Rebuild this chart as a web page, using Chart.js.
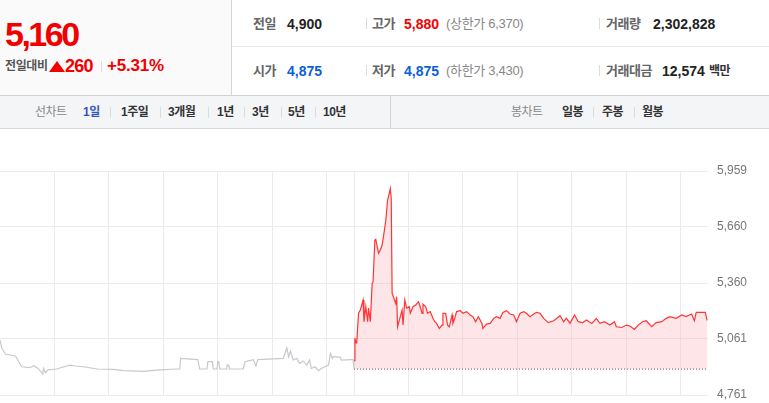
<!DOCTYPE html>
<html lang="ko">
<head>
<meta charset="utf-8">
<script src="https://cdn.jsdelivr.net/npm/chart.js"></script>
<style>
body { margin: 0; width: 769px; height: 403px; overflow: hidden; background: #fff; position: relative;
       font-family: "Liberation Sans", Arial, "Noto Sans CJK KR", sans-serif; }
.a { position: absolute; white-space: nowrap; }
.lbl { font-size: 13px; font-weight: bold; color: #666; letter-spacing: -0.5px; }
.num { font-size: 14px; font-weight: bold; color: #222; }
.sub { font-size: 13px; color: #888; letter-spacing: -0.3px; }
.red { color: #f20000; }
.blue { color: #0a5fd8; }
.sep { position: absolute; width: 1px; height: 11px; background: #dcdcdc; }
#left { position: absolute; left: 0; top: 0; width: 231px; height: 95px; background: #fafafa; border-right: 1px solid #d6d6d6; }
#hline { position: absolute; left: 232px; top: 46px; width: 537px; height: 1px; background: #e8e8e8; }
#tabs { position: absolute; left: 0; top: 95px; width: 769px; height: 32px; background: #f4f5f7;
        border-top: 1px solid #cfd1d6; border-bottom: 1px solid #d7d9dd; }
.tab { font-size: 12px; font-weight: bold; color: #333; letter-spacing: -0.5px; }
.tabg { font-size: 12px; color: #888; letter-spacing: -0.5px; }
#chart { position: absolute; left: 0; top: 131px; }
</style>
</head>
<body>
<div id="left"></div>
<div id="hline"></div>

<div class="a red" style="left:5px;top:17px;font-size:34px;line-height:34px;font-weight:bold;letter-spacing:-2.5px">5,160</div>
<div class="a" style="left:5px;top:58px;font-size:12px;line-height:16px;font-weight:bold;color:#555;letter-spacing:-0.4px">전일대비</div>
<div class="a" style="left:49px;top:61px;width:0;height:0;border-left:8px solid transparent;border-right:8px solid transparent;border-bottom:11px solid #f20000"></div>
<div class="a red" style="left:65px;top:56px;font-size:18px;line-height:20px;font-weight:bold;letter-spacing:-0.7px">260</div>
<div class="sep" style="left:101px;top:61px"></div>
<div class="a red" style="left:107px;top:56px;font-size:17px;line-height:20px;font-weight:bold;letter-spacing:-0.2px">+5.31%</div>

<div class="a lbl" style="left:253px;top:14px;line-height:20px">전일</div>
<div class="a num" style="left:287px;top:14px;line-height:20px">4,900</div>
<div class="sep" style="left:366px;top:18px"></div>
<div class="a lbl" style="left:372px;top:14px;line-height:20px">고가</div>
<div class="a num red" style="left:404px;top:14px;line-height:20px">5,880</div>
<div class="a sub" style="left:446px;top:14px;line-height:20px">(상한가 6,370)</div>
<div class="sep" style="left:599px;top:18px"></div>
<div class="a lbl" style="left:606px;top:14px;line-height:20px">거래량</div>
<div class="a num" style="left:653px;top:14px;line-height:20px">2,302,828</div>

<div class="a lbl" style="left:253px;top:61px;line-height:20px">시가</div>
<div class="a num blue" style="left:287px;top:61px;line-height:20px">4,875</div>
<div class="sep" style="left:366px;top:65px"></div>
<div class="a lbl" style="left:372px;top:61px;line-height:20px">저가</div>
<div class="a num blue" style="left:404px;top:61px;line-height:20px">4,875</div>
<div class="a sub" style="left:446px;top:61px;line-height:20px">(하한가 3,430)</div>
<div class="sep" style="left:599px;top:65px"></div>
<div class="a lbl" style="left:606px;top:61px;line-height:20px">거래대금</div>
<div class="a num" style="left:662px;top:61px;line-height:20px">12,574</div>
<div class="a" style="left:709px;top:61px;line-height:20px;font-size:12px;font-weight:bold;color:#333;letter-spacing:-0.5px">백만</div>

<div id="tabs"></div>
<div class="a" style="left:390px;top:96px;width:1px;height:32px;background:#cfd1d6"></div>
<div class="a tabg" style="left:35px;top:103px;line-height:18px">선차트</div>
<div class="a tab" style="left:83px;top:103px;line-height:18px;color:#3556b8">1일</div>
<div class="sep" style="left:110px;top:107px"></div>
<div class="a tab" style="left:121px;top:103px;line-height:18px">1주일</div>
<div class="sep" style="left:160px;top:107px"></div>
<div class="a tab" style="left:168px;top:103px;line-height:18px">3개월</div>
<div class="sep" style="left:208px;top:107px"></div>
<div class="a tab" style="left:217px;top:103px;line-height:18px">1년</div>
<div class="sep" style="left:244px;top:107px"></div>
<div class="a tab" style="left:252px;top:103px;line-height:18px">3년</div>
<div class="sep" style="left:281px;top:107px"></div>
<div class="a tab" style="left:288px;top:103px;line-height:18px">5년</div>
<div class="sep" style="left:315px;top:107px"></div>
<div class="a tab" style="left:323px;top:103px;line-height:18px">10년</div>
<div class="a tabg" style="left:511px;top:103px;line-height:18px">봉차트</div>
<div class="a tab" style="left:562px;top:103px;line-height:18px">일봉</div>
<div class="sep" style="left:593px;top:107px"></div>
<div class="a tab" style="left:602px;top:103px;line-height:18px">주봉</div>
<div class="sep" style="left:634px;top:107px"></div>
<div class="a tab" style="left:642px;top:103px;line-height:18px">월봉</div>

<canvas id="chart" width="769" height="290"></canvas>

<script>
// minutes since 09:00 of each session
const prevMinutes = [0,2,6,17,24,33,37,42,47,48,50,53,62,77,83,92,107,125,136,158,176,195,198,199,218,220,228,229,234,235,239,240,241,242,249,250,252,253,268,270,279,282,284,312,316,318,320,323,327,330,334,338,341,343,347,351,354,358,362,364,366,367,375,376,387,389,390];
const prevPrices = [5055,5011,4980,4970,4912,4907,4918,4903,4873,4903,4880,4895,4900,4921,4916,4912,4900,4898,4891,4887,4895,4900,4900,4957,4950,4900,4900,4939,4939,4900,4900,4939,4939,4900,4900,4921,4921,4900,4900,4939,4950,4916,4950,4957,5012,4966,4995,4948,4957,4930,4943,4921,4948,4903,4912,4891,4903,4912,4921,4984,4957,4966,4962,4948,4950,4950,4900];

const todayMinutes = [0,1,2,3,5,7,10,11,13,15,16,18,20,21,23,24,27,29,31,33,35,37,38,40,41,42,44,46,47,48,51,53,54,56,58,61,62,65,68,71,73,75,76,79,81,84,87,89,91,94,97,98,101,103,105,108,109,111,113,117,120,124,128,131,134,137,141,142,146,150,154,157,161,164,168,172,176,179,183,187,190,194,198,201,205,209,214,220,227,231,234,238,243,247,252,256,262,267,271,276,282,287,289,295,300,304,309,313,318,322,328,333,339,344,348,355,361,366,372,375,377,387,389];
const todayPrices = [4945,5066,5039,5040,5198,5216,5269,5153,5233,5153,5226,5153,5358,5367,5590,5594,5519,5537,5563,5626,5693,5804,5822,5865,5813,5305,5278,5251,5287,5126,5180,5216,5135,5269,5226,5233,5198,5233,5242,5260,5233,5198,5247,5233,5198,5207,5171,5153,5144,5117,5135,5198,5198,5135,5126,5189,5144,5171,5207,5212,5198,5207,5189,5180,5153,5180,5144,5117,5140,5144,5171,5180,5171,5203,5212,5194,5189,5153,5198,5207,5198,5180,5194,5203,5198,5171,5148,5158,5185,5153,5171,5144,5189,5153,5148,5162,5144,5171,5144,5153,5135,5153,5126,5122,5135,5130,5112,5135,5153,5158,5126,5148,5153,5171,5180,5171,5189,5180,5194,5158,5203,5203,5160];

const prevClose = 4900;
const sessionLength = 390;
const yTicks = [4761, 5061, 5360, 5660, 5959];
const xGrid = [60, 120, 180, 240, 300, 360, 390, 450, 510, 570, 630, 690, 750];

const prevData = prevMinutes.map((m, i) => ({ x: m, y: prevPrices[i] }));
const todayData = todayMinutes.map((m, i) => ({ x: m + sessionLength, y: todayPrices[i] }));
const baseData = [{ x: sessionLength, y: prevClose }, { x: sessionLength * 2, y: prevClose }];

new Chart(document.getElementById('chart'), {
    type: 'line',
    data: {
        datasets: [
            { data: prevData, borderColor: '#c6c9ce', borderWidth: 1.2, pointRadius: 0, fill: false, tension: 0 },
            { data: todayData, borderColor: '#ff3434', borderWidth: 1.2, pointRadius: 0, tension: 0,
              fill: { value: prevClose }, backgroundColor: 'rgba(248,180,188,0.35)' },
            { data: baseData, borderColor: '#444', borderWidth: 1, borderDash: [1, 2], pointRadius: 0, fill: false }
        ]
    },
    options: {
        responsive: false,
        animation: false,
        devicePixelRatio: 1,
        layout: { padding: { top: 40, bottom: 26, left: 0, right: 0 } },
        plugins: { legend: { display: false }, tooltip: { enabled: false } },
        scales: {
            x: {
                type: 'linear', min: 0, max: sessionLength * 2,
                afterBuildTicks: s => { s.ticks = xGrid.map(v => ({ value: v })); },
                ticks: { display: false },
                grid: { color: '#ebebeb', lineWidth: 1, drawTicks: false },
                border: { display: false }
            },
            y: {
                position: 'right', min: yTicks[0], max: yTicks[yTicks.length - 1],
                afterBuildTicks: s => { s.ticks = yTicks.map(v => ({ value: v })); },
                afterFit: s => { s.width = 61; },
                ticks: {
                    padding: 9, color: '#777',
                    font: { family: '"Liberation Sans", Arial', size: 12 },
                    callback: v => v.toLocaleString('en-US')
                },
                grid: { color: '#ebebeb', lineWidth: 1, drawTicks: false },
                border: { display: false }
            }
        }
    }
});
</script>
</body>
</html>
